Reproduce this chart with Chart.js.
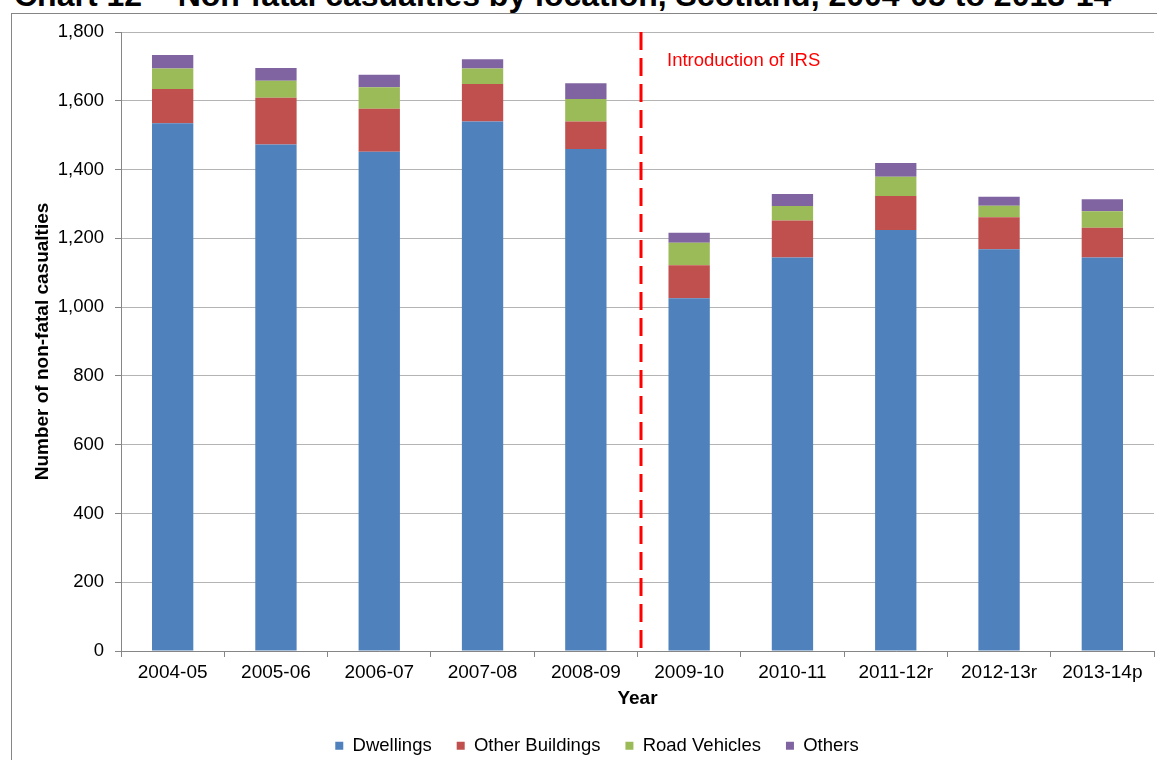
<!DOCTYPE html>
<html>
<head>
<meta charset="utf-8">
<script src="https://cdn.jsdelivr.net/npm/chart.js@4/dist/chart.umd.min.js"></script>
<style>
  html, body { margin: 0; padding: 0; background: #fff; overflow: hidden; width: 1157px; height: 760px; }
  #title { position: absolute; left: 14px; top: -21px; font: bold 32px/32px 'Liberation Sans', Arial, sans-serif; color: #000; white-space: nowrap; }
  #frame { position: absolute; left: 11px; top: 13px; width: 1200px; height: 800px; border: 1px solid #868686; }
  #wrap { position: absolute; left: 0; top: 0; width: 1157px; height: 765px; }
</style>
</head>
<body>
<div id="title">Chart 12 – Non-fatal casualties by location, Scotland, 2004-05 to 2013-14</div>
<div id="frame"></div>
<div id="wrap"><canvas id="chart" width="1157" height="765"></canvas></div>
<script>
var years = ["2004-05", "2005-06", "2006-07", "2007-08", "2008-09", "2009-10", "2010-11", "2011-12r", "2012-13r", "2013-14p"];
var dwellings = [1535, 1473, 1452, 1540, 1460, 1026, 1144, 1224, 1168, 1144];
var otherBuildings = [99, 136, 125, 109, 80, 96, 108, 99, 93, 87];
var roadVehicles = [60, 49, 62, 45, 65, 65, 42, 56, 34, 48];
var others = [39, 37, 37, 27, 46, 29, 35, 40, 26, 35];
var yMax = 1800;
var yStep = 200;
var irsAfter = 4; // line drawn between 2008-09 and 2009-10
var irsLabel = "Introduction of IRS";

var fontFamily = "'Liberation Sans', Arial, sans-serif";
var axisGrey = '#868686';

// red dashed marker for the IRS change
var irsLine = {
    id: 'irsLine',
    afterDatasetsDraw: function (chart) {
        var ctx = chart.ctx;
        var xs = chart.scales.x;
        var area = chart.chartArea;
        // the original sits a few px right of the category boundary
        var x = (xs.getPixelForValue(irsAfter) + xs.getPixelForValue(irsAfter + 1)) / 2 + 3.5;
        ctx.save();
        ctx.strokeStyle = '#ff0000';
        ctx.lineWidth = 3;
        ctx.setLineDash([18, 8]);
        ctx.beginPath();
        ctx.moveTo(x, area.top);
        ctx.lineTo(x, area.bottom);
        ctx.stroke();
        ctx.setLineDash([]);
        ctx.fillStyle = '#ff0000';
        ctx.font = '18.5px ' + fontFamily;
        ctx.textBaseline = 'middle';
        ctx.textAlign = 'left';
        ctx.fillText(irsLabel, x + 26, area.top + 29);
        ctx.restore();
    }
};

// nudge the legend to sit where the original puts it
var legendShift = {
    id: 'legendShift',
    afterLayout: function (chart) {
        chart.legend.left += 20;
        chart.legend.right += 20;
    }
};

var myChart = new Chart(document.getElementById('chart'), {
    type: 'bar',
    data: {
        labels: years,
        datasets: [
            { label: 'Dwellings', data: dwellings, backgroundColor: '#4F81BD' },
            { label: 'Other Buildings', data: otherBuildings, backgroundColor: '#C0504D' },
            { label: 'Road Vehicles', data: roadVehicles, backgroundColor: '#9BBB59' },
            { label: 'Others', data: others, backgroundColor: '#8064A2' }
        ]
    },
    options: {
        responsive: false,
        animation: false,
        maintainAspectRatio: false,
        datasets: {
            bar: { barPercentage: 0.4, categoryPercentage: 1 }
        },
        layout: { padding: { left: 0, right: 3, top: 32, bottom: 0 } },
        scales: {
            x: {
                stacked: true,
                grid: { display: true, drawOnChartArea: false, drawTicks: true, tickLength: 6, color: axisGrey, offset: true },
                border: { display: true, color: axisGrey },
                ticks: { color: '#000', padding: 4, maxRotation: 0, font: { family: fontFamily, size: 19 } },
                title: { display: true, text: 'Year', color: '#000', padding: { top: 0, bottom: 1 }, font: { family: fontFamily, size: 19, weight: 'bold' } },
                afterFit: function (scale) { scale.height = 60.5; }
            },
            y: {
                stacked: true,
                min: 0,
                max: yMax,
                grid: { color: '#b4b4b4', tickColor: axisGrey, tickLength: 6, drawTicks: true },
                border: { display: true, color: axisGrey },
                ticks: {
                    stepSize: yStep,
                    color: '#000',
                    padding: 11,
                    font: { family: fontFamily, size: 18.5 },
                    callback: function (v) { return v.toLocaleString('en-GB'); }
                },
                title: { display: true, text: 'Number of non-fatal casualties', color: '#000', padding: { top: 31, bottom: 0 }, font: { family: fontFamily, size: 19, weight: 'bold' } },
                afterFit: function (scale) { scale.width = 121; }
            }
        },
        plugins: {
            title: { display: false },
            tooltip: { enabled: false },
            legend: {
                display: true,
                position: 'bottom',
                labels: {
                    boxWidth: 8,
                    boxHeight: 8,
                    padding: 25,
                    color: '#000',
                    font: { family: fontFamily, size: 18.5 }
                }
            }
        }
    },
    plugins: [irsLine, legendShift]
});
</script>
</body>
</html>
